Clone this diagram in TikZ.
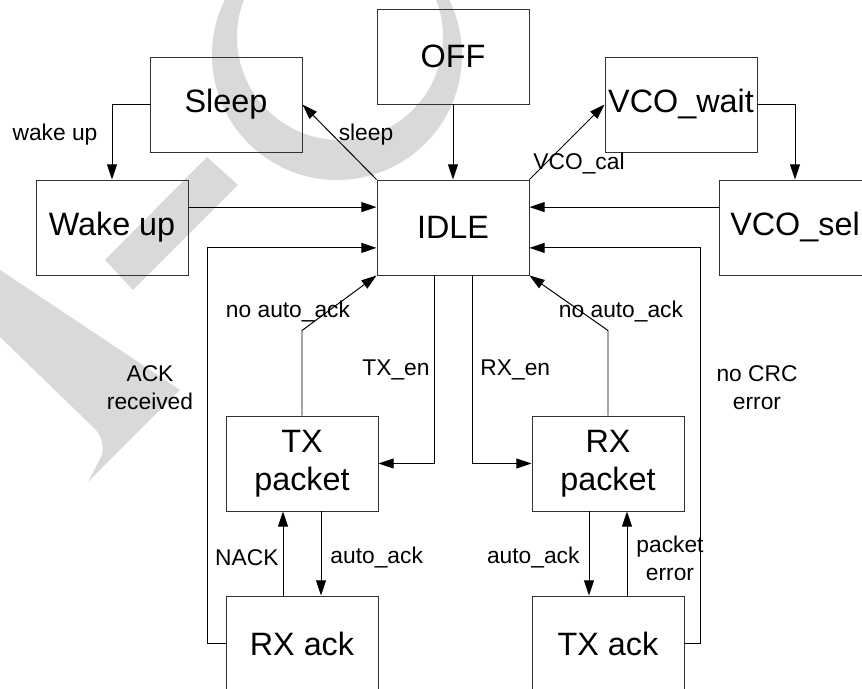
\documentclass[tikz,border=0pt]{standalone}
\usepackage{fontspec}
\setmainfont{Liberation Sans}
\usepackage{tikz}
\usetikzlibrary{arrows.meta}

\tikzset{
  state/.style={draw=black!80,rectangle,minimum width=3.8cm,minimum height=2.375cm,
    inner sep=0pt,align=center,font=\fontsize{23}{27}\selectfont},
  lbl/.style={inner sep=0pt,align=center,font=\fontsize{16.2}{20}\selectfont},
  shade mark/.style={fill=black!15}
}

\begin{document}
\begin{tikzpicture}[>={Triangle[length=0.38cm,width=0.25cm]},line width=0.7pt]
\useasboundingbox (0,0) rectangle (21.55,17.225);

% watermark
\begin{scope}
\clip (0,0) rectangle (21.55,17.225);
\fill[shade mark,even odd rule] (8.425,15.85) circle (3.125) (8.5,16.3) circle (2.575);
\fill[shade mark] (5.175,13.3) -- (5.95,12.6) -- (3.325,9.975) -- (2.625,10.725) -- cycle;
\fill[shade mark] (0,8.8) -- (2.325,6.55) .. controls (2.55,6.33) and (2.6,6.1) .. (2.55,5.85)
  -- (2.2,5.175) -- (4.5,7.475) -- (0,10.475) -- cycle;
\end{scope}

% off node
\node[state] (off) at (11.325,15.8125) {OFF};

% sleep node
\node[state] (sleep) at (5.65,14.6125) {Sleep};

% vco wait node
\node[state] (vcowait) at (17.025,14.6125) {VCO\_wait};

% wake up node
\node[state] (wake) at (2.8,11.5375) {Wake up};

% idle node
\node[state] (idle) at (11.325,11.5375) {IDLE};

% vco select node
\node[state] (vcosel) at (19.875,11.5375) {VCO\_sel};

% tx packet node
\node[state] (txpacket) at (7.55,5.6375) {TX\\packet};

% rx packet node
\node[state] (rxpacket) at (15.2,5.6375) {RX\\packet};

% rx ack node
\node[state] (rxack) at (7.55,1.1375) {RX ack};

% tx ack node
\node[state] (txack) at (15.2,1.1375) {TX ack};

% top part
\draw[->] (sleep.west) -| (wake.north);
\node[lbl] at (1.375,13.85) {wake up};
\draw[->] ([yshift=0.51cm]wake.east) -- ([yshift=0.51cm]idle.west);
\draw[->] (idle.north west) -- (sleep.east);
\node[lbl] at (9.15,13.85) {sleep};
\draw[->] (off.south) -- (idle.north);
\draw[->] (idle.north east) -- (vcowait.west);
\node[lbl] at (14.475,13.125) {VCO\_cal};
\draw[->] (vcowait.east) -| (vcosel.north);
\draw[->] ([yshift=0.51cm]vcosel.west) -- ([yshift=0.51cm]idle.east);

% tx side
\draw[->] ([xshift=-0.475cm]idle.south) |- (txpacket.east);
\node[lbl,anchor=east] at (10.75,7.975) {TX\_en};
\draw[->] (txpacket.north) -- ++(0,2.125) -- (idle.south west);
\node[lbl] at (7.2,9.425) {no auto\_ack};
\draw[->] ([xshift=-0.475cm]rxack.north) -- ([xshift=-0.475cm]txpacket.south);
\node[lbl,anchor=east] at (6.975,3.275) {NACK};
\draw[->] ([xshift=0.475cm]txpacket.south) -- ([xshift=0.475cm]rxack.north);
\node[lbl,anchor=west] at (8.25,3.275) {auto\_ack};
\draw[->] (rxack.west) -- ++(-0.45,0) |- ([yshift=-0.51cm]idle.west);
\node[lbl] at (3.75,7.525) {ACK\\received};

% rx side
\draw[->] ([xshift=0.475cm]idle.south) |- (rxpacket.west);
\node[lbl,anchor=west] at (12.0,7.975) {RX\_en};
\draw[->] (rxpacket.north) -- ++(0,2.125) -- (idle.south east);
\node[lbl] at (15.525,9.425) {no auto\_ack};
\draw[->] ([xshift=-0.475cm]rxpacket.south) -- ([xshift=-0.475cm]txack.north);
\node[lbl,anchor=east] at (14.5,3.275) {auto\_ack};
\draw[->] ([xshift=0.475cm]txack.north) -- ([xshift=0.475cm]rxpacket.south);
\node[lbl] at (16.75,3.275) {packet\\error};
\draw[->] (txack.east) -- ++(0.4,0) |- ([yshift=-0.51cm]idle.east);
\node[lbl] at (18.925,7.525) {no CRC\\error};

\end{tikzpicture}
\end{document}
